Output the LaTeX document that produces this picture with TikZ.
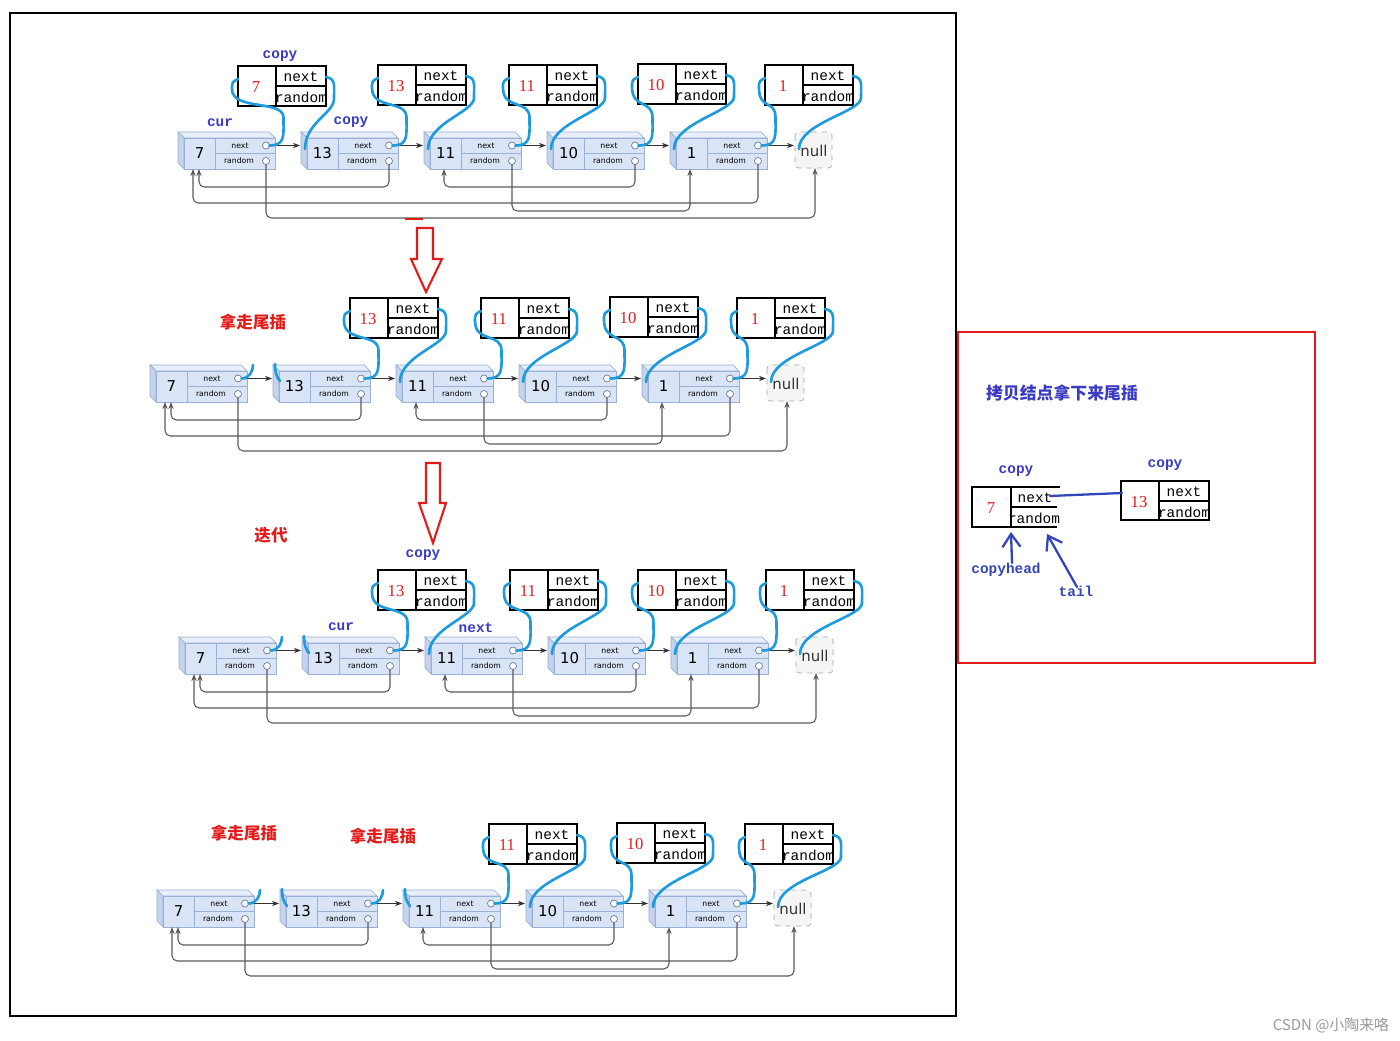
\documentclass[tikz,border=0pt]{standalone}
\usepackage{fontspec}
\usepackage{xcolor}
\usepackage{tikz}
\usetikzlibrary{calc,arrows.meta,positioning}
\newfontfamily\cjk{Noto Sans CJK SC}
\newfontfamily\monof{Liberation Mono}
\newfontfamily\numf{Liberation Serif}
\newfontfamily\lnf{DejaVu Sans}
\definecolor{lnfill}{HTML}{D9E4F6}
\definecolor{lntop}{HTML}{E8EEFA}
\definecolor{lnside}{HTML}{C5D3EC}
\definecolor{lnedge}{HTML}{9AB0D6}
\definecolor{rdgray}{HTML}{5A5A5A}
\definecolor{cyanink}{HTML}{1E9BDC}
\definecolor{lblue}{HTML}{3B3BC4}
\definecolor{lred}{HTML}{E41B1B}
\definecolor{handblue}{HTML}{3246B8}

% one node of the original list (3D box), #1 name, #2 x, #3 y, #4 value
\newcommand{\lnode}[4]{%
  \begin{scope}[shift={(#2,#3)}]
    \filldraw[lnedge, fill=lntop] (0,0) -- (91,0) -- (97,6) -- (6,6) -- cycle;
    \filldraw[lnedge, fill=lnside] (0,0) -- (6,6) -- (6,37) -- (0,31) -- cycle;
    \filldraw[lnedge, fill=lnfill] (6,6) rectangle (97,37);
    \draw[lnedge] (37,6) -- (37,37) (37,21.5) -- (97,21.5);
    \node[lnval] (#1) at (21.5,21.5) {#4};
    \node[lnsmall] (#1-tn) at (62,13.5) {next};
    \node[lnsmall] (#1-tr) at (61,29) {random};
    \draw[lnedge!70!black, fill=white] (88,13.5) circle (3.5) (88,29) circle (3.5);
    \coordinate (#1-nx) at (91.5,13.5);
    \coordinate (#1-rd) at (88,32.5);
    \coordinate (#1-in) at (-1,13.5);
    \coordinate (#1-bl) at (4,17);
    \coordinate (#1-bt) at (20,37);
    \coordinate (#1-b1) at (15,37);
    \coordinate (#1-b2) at (21,37);
    \coordinate (#1-nt) at (103,0);
    \coordinate (#1-ta) at (2,-1);
    \coordinate (#1-tb) at (7,16);
  \end{scope}}

% the null end of the list
\newcommand{\nullnode}[3]{%
  \begin{scope}[shift={(#2,#3)}]
    \filldraw[gray!70, dashed, fill=gray!8, rounded corners=2pt] (2,0) rectangle (39,36);
    \node[lnval, gray!40!black] (#1) at (21,19) {null};
    \coordinate (#1-in) at (1,13.5);
    \coordinate (#1-bl) at (6,17);
    \coordinate (#1-bt) at (22,36);
  \end{scope}}

% a whole row: 7 -> 13 -> 11 -> 10 -> 1 -> null, with random pointers
\newcommand{\lrow}[3]{%
  \lnode{#1a}{#2}{#3}{7}
  \lnode{#1b}{#2+123}{#3}{13}
  \lnode{#1c}{#2+246}{#3}{11}
  \lnode{#1d}{#2+369}{#3}{10}
  \lnode{#1e}{#2+492}{#3}{1}
  \nullnode{#1n}{#2+615}{#3}
  \draw[nxarrow] (#1a-nx) -- (#1b-in);
  \draw[nxarrow] (#1b-nx) -- (#1c-in);
  \draw[nxarrow] (#1c-nx) -- (#1d-in);
  \draw[nxarrow] (#1d-nx) -- (#1e-in);
  \draw[nxarrow] (#1e-nx) -- (#1n-in);
  \draw[rdline] (#1b-rd) -- ++(0,22.5) -| (#1a-b2);
  \draw[rdline] (#1e-rd) -- ++(0,38.5) -| (#1a-b1);
  \draw[rdline] (#1c-rd) -- ++(0,46.5) -| (#1e-bt);
  \draw[rdline] (#1d-rd) -- ++(0,22.5) -| (#1c-bt);
  \draw[rdline] (#1a-rd) -- ++(0,53.5) -| (#1n-bt);}

% copied node box, #1 name, #2 x, #3 y, #4 value
\newcommand{\cbox}[4]{%
  \begin{scope}[shift={(#2,#3)}]
    \draw[cbline] (0,0) rectangle (88,40);
    \draw[line width=1.1pt] (38,0) -- (38,40) (38,20) -- (88,20);
    \node[cbval] (#1) at (18,21) {#4};
    \node[cbtxt] (#1-tn) at (63,11) {next};
    \node[cbtxt] (#1-tr) at (63,31) {random};
    \coordinate (#1-l) at (0,13);
    \coordinate (#1-r) at (88,11);
  \end{scope}}

% hand drawn links
\newcommand{\upcurve}[2]{%
  \draw[curve] (#1) .. controls +(16,0) and +(0,18) .. ($(#1)+(14,-28)$)
    .. controls +(0,-18) and +(0,22) .. ($(#2)+(-6,10)$)
    .. controls +(0,-8) and +(-5,3) .. (#2);}
\newcommand{\dncurve}[2]{%
  \draw[curve] (#1) .. controls +(10,2) and +(0,-14) .. ($(#1)+(8,22)$)
    .. controls +(0,14) and +(0,-26) .. (#2);}
\newcommand{\cutout}[1]{%
  \draw[curve] (#1-nx) .. controls +(8,0) and +(0,6) .. (#1-nt);}
\newcommand{\cutin}[1]{%
  \draw[curve] (#1-ta) .. controls +(0,8) and +(-4,-5) .. (#1-tb);}

\begin{document}
\begin{tikzpicture}[x=0.2mm, y=-0.2mm,
    lnval/.style={font=\lnf\fontsize{8.5}{9}\selectfont, inner sep=0pt},
    lnsmall/.style={font=\lnf\fontsize{4.4}{5}\selectfont, inner sep=0pt},
    nxarrow/.style={draw=black!80, line width=0.5pt, -{Stealth[length=4pt,width=3pt]}},
    rdline/.style={rdgray, line width=0.6pt, rounded corners=3pt, -{Stealth[length=4pt,width=3pt]}},
    cbline/.style={line width=1.6pt},
    cbtxt/.style={font=\monof\fontsize{8.2}{8.2}\selectfont, inner sep=0pt},
    cbval/.style={lred, font=\numf\fontsize{9.5}{9.5}\selectfont, inner sep=0pt},
    curve/.style={cyanink, line width=1.5pt, line cap=round},
    lbl/.style={lblue, font=\monof\bfseries\fontsize{8.2}{8.2}\selectfont, inner sep=0pt},
    cnlbl/.style={lred, font=\cjk\bfseries\fontsize{9.4}{9.4}\selectfont, inner sep=0pt},
    hand/.style={handblue, line width=1.3pt, line cap=round}]
  \useasboundingbox (0,0) rectangle (1400,1041);

  % frames
  \draw[line width=1.2pt] (10,13) rectangle (956,1016);
  \draw[lred, line width=1.3pt] (958,332) rectangle (1315,663);

  % row 1
  \lrow{r1}{178}{132}
  \cbox{r1k7}{238}{66}{7}
  \cbox{r1k13}{378}{65}{13}
  \cbox{r1k11}{509}{65}{11}
  \cbox{r1k10}{638}{64}{10}
  \cbox{r1k1}{765}{65}{1}
  \upcurve{r1a-nx}{r1k7-l}  \dncurve{r1k7-r}{r1b-bl}
  \upcurve{r1b-nx}{r1k13-l} \dncurve{r1k13-r}{r1c-bl}
  \upcurve{r1c-nx}{r1k11-l} \dncurve{r1k11-r}{r1d-bl}
  \upcurve{r1d-nx}{r1k10-l} \dncurve{r1k10-r}{r1e-bl}
  \upcurve{r1e-nx}{r1k1-l}  \dncurve{r1k1-r}{r1n-bl}
  \node[lbl] (cp1) at (280,56) {copy};
  \node[lbl] (cur1) at (220,123) {cur};
  \node[lbl] (cp2) at (351,122) {copy};

  % first step arrow
  \draw[lred, line width=1.2pt] (405,219) -- (423,219);
  \draw[lred, line width=1.2pt, fill=white] (417,228) -- (433,228) -- (433,259) -- (442,259)
    -- (426,292) -- (411,259) -- (417,259) -- cycle;

  % row 2
  \lrow{r2}{150}{365}
  \cbox{r2k13}{350}{298}{13}
  \cbox{r2k11}{481}{298}{11}
  \cbox{r2k10}{610}{297}{10}
  \cbox{r2k1}{737}{298}{1}
  \cutout{r2a} \cutin{r2b}
  \upcurve{r2b-nx}{r2k13-l} \dncurve{r2k13-r}{r2c-bl}
  \upcurve{r2c-nx}{r2k11-l} \dncurve{r2k11-r}{r2d-bl}
  \upcurve{r2d-nx}{r2k10-l} \dncurve{r2k10-r}{r2e-bl}
  \upcurve{r2e-nx}{r2k1-l}  \dncurve{r2k1-r}{r2n-bl}
  \node[cnlbl] (take1) at (253,322) {拿走尾插};

  % second step arrow
  \draw[lred, line width=1.2pt, fill=white] (426,463) -- (440,463) -- (440,503) -- (446,503)
    -- (433,543) -- (419,503) -- (426,503) -- cycle;

  % row 3
  \lrow{r3}{179}{637}
  \cbox{r3k13}{378}{570}{13}
  \cbox{r3k11}{510}{570}{11}
  \cbox{r3k10}{638}{570}{10}
  \cbox{r3k1}{766}{570}{1}
  \cutout{r3a} \cutin{r3b}
  \upcurve{r3b-nx}{r3k13-l} \dncurve{r3k13-r}{r3c-bl}
  \upcurve{r3c-nx}{r3k11-l} \dncurve{r3k11-r}{r3d-bl}
  \upcurve{r3d-nx}{r3k10-l} \dncurve{r3k10-r}{r3e-bl}
  \upcurve{r3e-nx}{r3k1-l}  \dncurve{r3k1-r}{r3n-bl}
  \node[cnlbl] (iter) at (271,535) {迭代};
  \node[lbl] (cp3) at (423,555) {copy};
  \node[lbl] (cur3) at (341,627) {cur};
  \node[lbl] (nx3) at (476,628) {next};

  % row 4
  \lrow{r4}{157}{890}
  \cbox{r4k11}{489}{824}{11}
  \cbox{r4k10}{617}{823}{10}
  \cbox{r4k1}{745}{824}{1}
  \cutout{r4a} \cutin{r4b} \cutout{r4b} \cutin{r4c}
  \upcurve{r4c-nx}{r4k11-l} \dncurve{r4k11-r}{r4d-bl}
  \upcurve{r4d-nx}{r4k10-l} \dncurve{r4k10-r}{r4e-bl}
  \upcurve{r4e-nx}{r4k1-l}  \dncurve{r4k1-r}{r4n-bl}
  \node[cnlbl] (take2) at (244,833) {拿走尾插};
  \node[cnlbl] (take3) at (383,836) {拿走尾插};

  % right panel: the copied list with copyhead and tail
  \node[lblue, font=\cjk\bfseries\fontsize{9.6}{9.6}\selectfont, inner sep=0pt] (title) at (1062,393) {拷贝结点拿下来尾插};
  \draw[cbline] (1060,487) -- (972,487) -- (972,527) -- (1057,527);
  \draw[line width=1.1pt] (1011,487) -- (1011,527) (1011,507) -- (1057,507);
  \node[cbval] (h7) at (991,508) {7};
  \node[cbtxt] (h7n) at (1035,498) {next};
  \node[cbtxt] (h7r) at (1034,518) {random};
  \coordinate (h7-nx) at (1050,496);
  \coordinate (h7-bt) at (1011,532);
  \coordinate (h7-tl) at (1047,534);
  \draw[cbline] (1121,481) rectangle (1209,520);
  \draw[line width=1.1pt] (1159,481) -- (1159,520) (1159,501) -- (1209,501);
  \node[cbval] (h13) at (1139,502) {13};
  \node[cbtxt] (h13n) at (1184,492) {next};
  \node[cbtxt] (h13r) at (1184,512) {random};
  \coordinate (h13-l) at (1122,493);
  \draw[hand] (h7-nx) -- (1098,494) -- (h13-l);
  \node[lbl] (cp4) at (1016,471) {copy};
  \node[lbl] (cp5) at (1165,465) {copy};
  \node[lbl, handblue] (chead) at (1006,570) {copyhead};
  \node[lbl, handblue] (tail) at (1076,591) {tail};
  \coordinate (chead-s) at (1012,563);
  \coordinate (tail-s) at (1077,587);
  \draw[hand, -{Straight Barb[length=2.6mm,width=3.6mm]}] (chead-s) -- (h7-bt);
  \draw[hand, -{Straight Barb[length=2.6mm,width=3.6mm]}] (tail-s) -- (h7-tl);

  % watermark
  \node[gray!80, font=\cjk\fontsize{8.5}{8.5}\selectfont, inner sep=0pt] (mark) at (1331,1026) {CSDN @小陶来咯};
\end{tikzpicture}
\end{document}
